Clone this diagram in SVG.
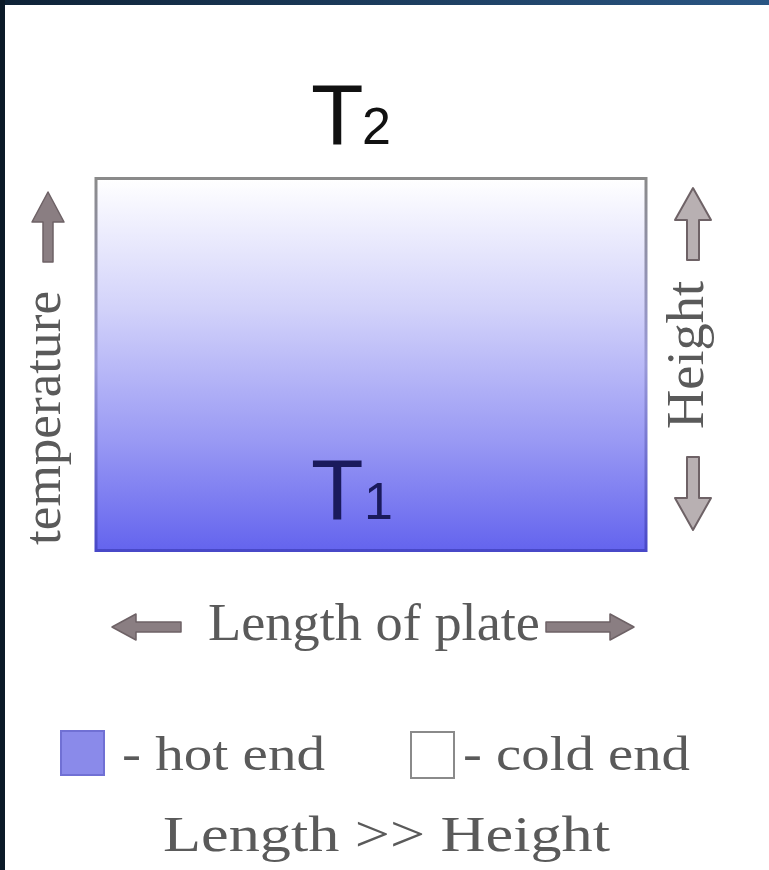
<svg xmlns="http://www.w3.org/2000/svg" width="769" height="870" viewBox="0 0 769 870">
  <defs>
    <linearGradient id="plateFill" x1="0" y1="0" x2="0" y2="1">
      <stop offset="0" stop-color="#ffffff"/>
      <stop offset="0.35" stop-color="#d2d2fa"/>
      <stop offset="0.7" stop-color="#9a9af4"/>
      <stop offset="1" stop-color="#6464ee"/>
    </linearGradient>
    <linearGradient id="plateStroke" x1="0" y1="0" x2="0" y2="1">
      <stop offset="0" stop-color="#8a8a8a"/>
      <stop offset="0.5" stop-color="#9a9ad8"/>
      <stop offset="1" stop-color="#4848c8"/>
    </linearGradient>
    <linearGradient id="topBand" x1="0" y1="0" x2="1" y2="0">
      <stop offset="0" stop-color="#0e2236"/>
      <stop offset="1" stop-color="#2a5684"/>
    </linearGradient>
    <style>
      .serif { font-family: "Liberation Serif", "Times New Roman", serif; fill: #5a5a5a; }
      .sans { font-family: "Liberation Sans", Arial, sans-serif; }
      .arrow { fill: #8a7e82; stroke: #6e6266; stroke-width: 1.5; stroke-linejoin: round; }
      .harrow { fill: #b8b0b2; stroke: #6e6266; stroke-width: 2; stroke-linejoin: round; }
    </style>
  </defs>

  <rect x="0" y="0" width="769" height="870" fill="#ffffff"/>
  <rect x="0" y="0" width="769" height="5" fill="url(#topBand)"/>
  <rect x="0" y="0" width="5" height="870" fill="#0b1a28"/>

  <g id="plate">
    <rect x="96" y="178.5" width="550" height="372" fill="url(#plateFill)" stroke="url(#plateStroke)" stroke-width="3"/>
  </g>

  <g id="label-T2">
    <text x="311" y="144" class="sans" font-size="86" fill="#111">T</text>
    <text x="362" y="144" class="sans" font-size="52" fill="#111">2</text>
  </g>

  <g id="label-T1">
    <text x="311" y="519" class="sans" font-size="86" fill="#1a1a5c">T</text>
    <text x="364" y="519" class="sans" font-size="52" fill="#1a1a5c">1</text>
  </g>

  <g id="temperature">
    <text class="serif" font-size="52" text-anchor="middle" textLength="254" lengthAdjust="spacingAndGlyphs" transform="translate(60,418) rotate(-90)">temperature</text>
  </g>

  <g id="height">
    <text class="serif" font-size="52" text-anchor="middle" textLength="148" lengthAdjust="spacingAndGlyphs" transform="translate(703,355) rotate(-90)">Height</text>
  </g>

  <g id="length">
    <text x="374" y="640" class="serif" font-size="52" text-anchor="middle" textLength="332" lengthAdjust="spacingAndGlyphs">Length of plate</text>
  </g>

  <g id="legend-hot">
    <rect x="61" y="731" width="43" height="44" fill="#8a8aea" stroke="#7070d4" stroke-width="2"/>
    <text x="122" y="770" class="serif" font-size="48" textLength="203" lengthAdjust="spacingAndGlyphs">- hot end</text>
  </g>

  <g id="legend-cold">
    <rect x="411" y="732" width="43" height="46" fill="#ffffff" stroke="#8a8a8a" stroke-width="2"/>
    <text x="463" y="770" class="serif" font-size="48" textLength="227" lengthAdjust="spacingAndGlyphs">- cold end</text>
  </g>

  <g id="ratio">
    <text x="163" y="851" class="serif" font-size="50" textLength="447" lengthAdjust="spacingAndGlyphs">Length  &gt;&gt;  Height</text>
  </g>

  <g id="connectors">
    <path class="arrow" d="M48,192 L64,222 L53,222 L53,262 L43,262 L43,222 L32,222 Z"/>
    <path class="harrow" d="M693,188 L711,220 L699,220 L699,260 L687,260 L687,220 L675,220 Z"/>
    <path class="harrow" d="M693,530 L711,498 L699,498 L699,457 L687,457 L687,498 L675,498 Z"/>
    <path class="arrow" d="M112,627 L136,614 L136,622 L181,622 L181,632 L136,632 L136,640 Z"/>
    <path class="arrow" d="M634,627 L610,614 L610,622 L546,622 L546,632 L610,632 L610,640 Z"/>
  </g>
</svg>
